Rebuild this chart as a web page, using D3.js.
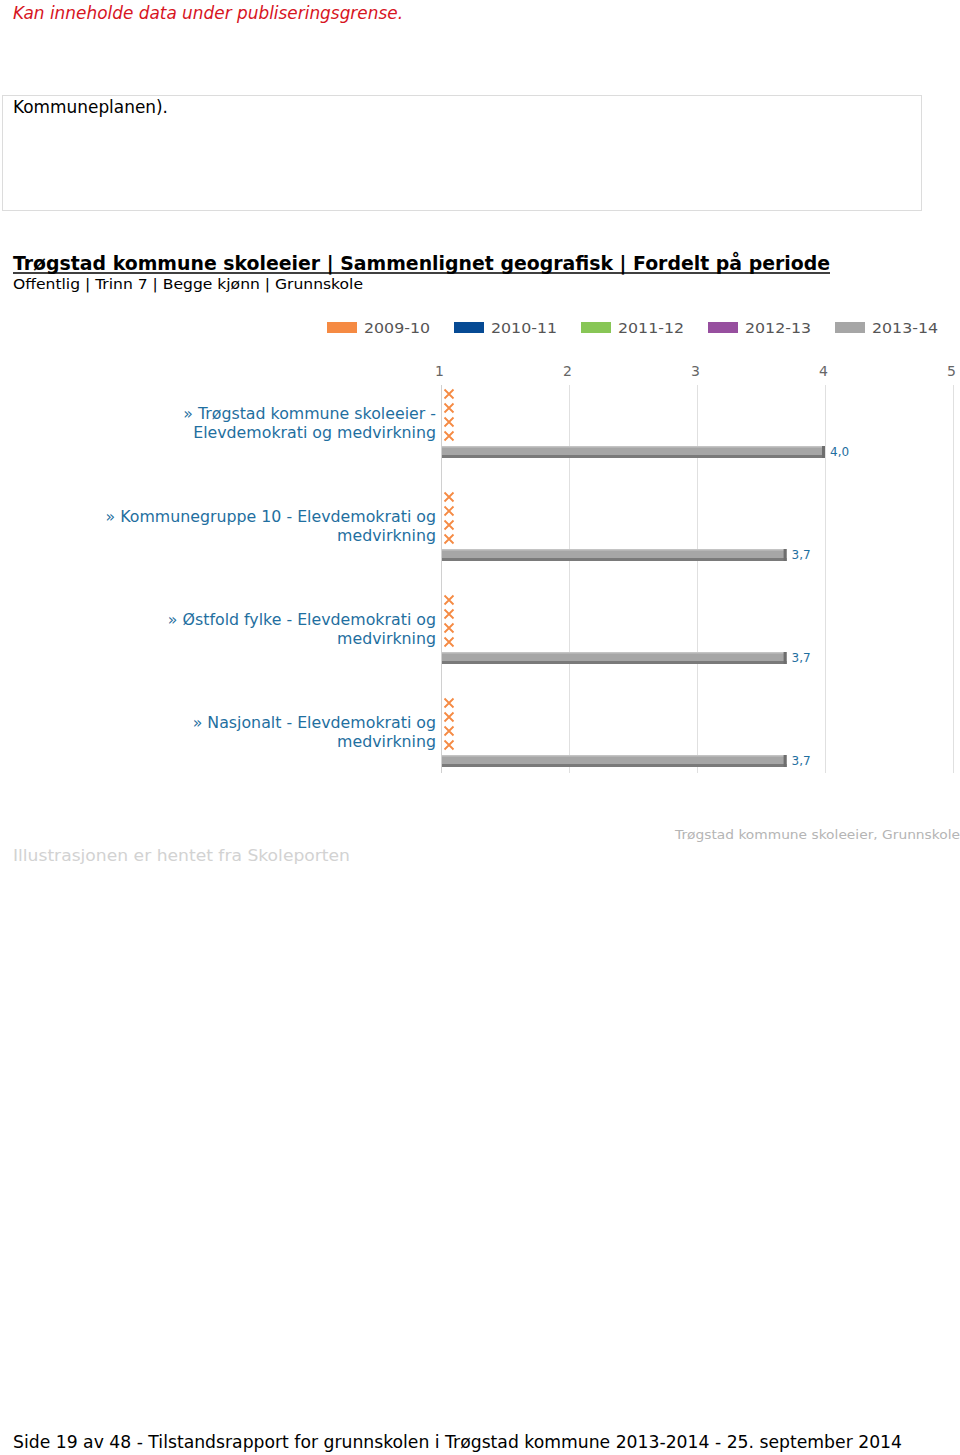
<!DOCTYPE html>
<html><head><meta charset="utf-8">
<script src="https://cdn.jsdelivr.net/npm/d3@7"></script>
<style>
html,body{margin:0;padding:0;background:#fff;}
svg{display:block;}
</style></head>
<body>
<script>
const categories = [
  ["» Trøgstad kommune skoleeier -", "Elevdemokrati og medvirkning"],
  ["» Kommunegruppe 10 - Elevdemokrati og", "medvirkning"],
  ["» Østfold fylke - Elevdemokrati og", "medvirkning"],
  ["» Nasjonalt - Elevdemokrati og", "medvirkning"]
];
const periods = ["2009-10", "2010-11", "2011-12", "2012-13", "2013-14"];
const periodColors = ["#f58a43", "#064a94", "#88c656", "#974f9f", "#a6a6a6"];
// null = no data (shown as X)
const v2009 = [null, null, null, null];
const v2010 = [null, null, null, null];
const v2011 = [null, null, null, null];
const v2012 = [null, null, null, null];
const v2013 = [4.0, 3.7, 3.7, 3.7];
const seriesValues = [v2009, v2010, v2011, v2012, v2013];
const xTicks = [1, 2, 3, 4, 5];

const W = 960, H = 1455;
const svg = d3.select("body").append("svg").attr("width", W).attr("height", H);
const FONT = "'DejaVu Sans', Verdana, sans-serif";

// header
svg.append("text").attr("x", 13).attr("y", 19).attr("font-family", FONT).attr("font-size", 17)
  .attr("font-style", "italic").attr("fill", "#d7141e").attr("textLength", 390).attr("lengthAdjust", "spacingAndGlyphs")
  .text("Kan inneholde data under publiseringsgrense.");
svg.append("rect").attr("x", 2.5).attr("y", 95.5).attr("width", 919).attr("height", 115)
  .attr("fill", "none").attr("stroke", "#dcdcdc");
svg.append("text").attr("x", 13).attr("y", 113).attr("font-family", FONT).attr("font-size", 17)
  .attr("fill", "#000").attr("textLength", 155).attr("lengthAdjust", "spacingAndGlyphs").text("Kommuneplanen).");

// title
svg.append("text").attr("x", 13).attr("y", 270).attr("font-family", FONT).attr("font-size", 19)
  .attr("font-weight", "bold").attr("fill", "#000").attr("textLength", 817).attr("lengthAdjust", "spacingAndGlyphs")
  .text("Trøgstad kommune skoleeier | Sammenlignet geografisk | Fordelt på periode");
svg.append("line").attr("x1", 13).attr("x2", 830).attr("y1", 273).attr("y2", 273).attr("stroke", "#000").attr("stroke-width", 1.5);
svg.append("text").attr("x", 13).attr("y", 289).attr("font-family", FONT).attr("font-size", 14.5)
  .attr("fill", "#000").attr("textLength", 350).attr("lengthAdjust", "spacingAndGlyphs")
  .text("Offentlig | Trinn 7 | Begge kjønn | Grunnskole");

// legend
const legend = svg.append("g");
periods.forEach((p, i) => {
  const lx = 327 + i * 127;
  legend.append("rect").attr("x", lx).attr("y", 322).attr("width", 30).attr("height", 11).attr("fill", periodColors[i]);
  legend.append("text").attr("x", lx + 37).attr("y", 333).attr("font-family", FONT).attr("font-size", 14)
    .attr("fill", "#555").attr("textLength", 66).attr("lengthAdjust", "spacingAndGlyphs").text(p);
});

// scales
const x = d3.scaleLinear().domain([1, 5]).range([441, 953]);
const groupTop = 385, groupH = 103;
const y = d3.scaleBand().domain(d3.range(categories.length)).range([groupTop, groupTop + groupH * categories.length]).padding(0);

// gridlines + ticks
const grid = svg.append("g");
xTicks.forEach(t => {
  grid.append("line").attr("x1", Math.round(x(t)) + 0.5).attr("x2", Math.round(x(t)) + 0.5)
    .attr("y1", 385).attr("y2", 773).attr("stroke", t === 1 ? "#d0d0d0" : "#e0e0e0");
});
const axis = d3.axisTop(x).tickValues(xTicks).tickSize(0).tickFormat(d3.format("d"));
const ag = svg.append("g").attr("transform", "translate(-2,379)").call(axis);
ag.select(".domain").remove();
ag.selectAll("text").attr("font-family", FONT).attr("font-size", 14).attr("fill", "#666");

// groups
categories.forEach((lab, gi) => {
  const g0 = y(gi);
  const tl = svg.append("text").attr("text-anchor", "end").attr("font-family", FONT).attr("font-size", 15.8)
    .attr("fill", "#1f6fa0");
  lab.forEach((line, li) => {
    tl.append("tspan").attr("x", 436).attr("y", g0 + 34 + li * 19).text(line);
  });
  seriesValues.forEach((vals, si) => {
    const v = vals[gi];
    if (v === null) {
      const cy = g0 + 9 + si * 14, cx = 449, s = 4.5;
      svg.append("path").attr("d", `M${cx - s},${cy - s}L${cx + s},${cy + s}M${cx + s},${cy - s}L${cx - s},${cy + s}`)
        .attr("stroke", periodColors[0]).attr("stroke-width", 1.8).attr("fill", "none");
    } else {
      const by = g0 + 61, bh = 12;
      const x0 = x(1) + 1, x1 = x(v);
      svg.append("rect").attr("x", x0).attr("y", by).attr("width", x1 - x0).attr("height", bh).attr("fill", periodColors[si]);
      svg.append("rect").attr("x", x0).attr("y", by + bh - 3).attr("width", x1 - x0).attr("height", 3).attr("fill", "#7a7a7a");
      svg.append("rect").attr("x", x0).attr("y", by).attr("width", x1 - x0).attr("height", 1.5).attr("fill", "#c4c4c4");
      svg.append("rect").attr("x", x1 - 3).attr("y", by).attr("width", 3).attr("height", bh).attr("fill", "#6e6e6e");
      svg.append("text").attr("x", x1 + 5).attr("y", by + 10).attr("font-family", FONT).attr("font-size", 12)
        .attr("fill", "#1f6fa0").text(d3.format(".1f")(v).replace(".", ","));
    }
  });
});

// footer texts
svg.append("text").attr("x", 675).attr("y", 839).attr("font-family", FONT).attr("font-size", 13)
  .attr("fill", "#b5b5b5").attr("textLength", 285).attr("lengthAdjust", "spacingAndGlyphs")
  .text("Trøgstad kommune skoleeier, Grunnskole");
svg.append("text").attr("x", 13).attr("y", 861).attr("font-family", FONT).attr("font-size", 16.5)
  .attr("fill", "#d2d2d2").attr("textLength", 337).attr("lengthAdjust", "spacingAndGlyphs")
  .text("Illustrasjonen er hentet fra Skoleporten");
svg.append("text").attr("x", 13).attr("y", 1448).attr("font-family", FONT).attr("font-size", 17.5)
  .attr("fill", "#000").attr("textLength", 889).attr("lengthAdjust", "spacingAndGlyphs")
  .text("Side 19 av 48 - Tilstandsrapport for grunnskolen i Trøgstad kommune 2013-2014 - 25. september 2014");
</script>
</body></html>
